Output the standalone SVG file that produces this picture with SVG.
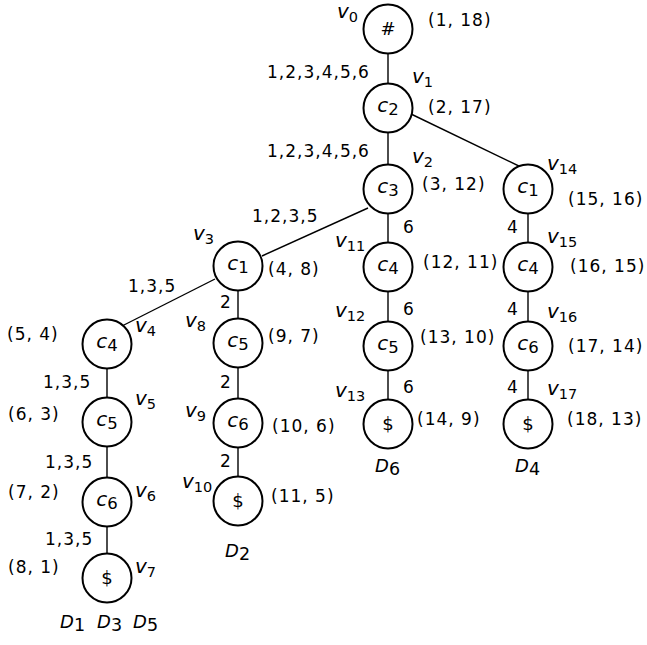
<svg xmlns="http://www.w3.org/2000/svg" width="647" height="645" viewBox="0 0 647 645">
<style>
text{font-family:"DejaVu Sans","Liberation Sans",sans-serif;fill:#000}
.t{font-size:17px;letter-spacing:1px}
.n{font-size:20px;text-anchor:middle}
.s{font-size:18px;text-anchor:middle}
.i{font-style:italic}
.v{font-style:italic;font-size:20px}
.d{font-style:italic;font-size:18px}
.vs{font-size:14.5px}
.ns{font-size:16.5px}
.ds{font-size:17.5px}
circle{fill:#fff;stroke:#000;stroke-width:2}
line{stroke:#000;stroke-width:1.4}
</style>
<rect width="647" height="645" fill="#fff"/>
<g id="connectors">
<line x1="388" y1="29" x2="388" y2="108"/>
<line x1="411" y1="114" x2="523" y2="168"/>
<line x1="388" y1="108" x2="388" y2="189"/>
<line x1="368" y1="208" x2="262" y2="256"/>
<line x1="388" y1="189" x2="388" y2="424"/>
<line x1="528" y1="189" x2="528" y2="424"/>
<line x1="215" y1="279" x2="122" y2="326"/>
<line x1="238" y1="266" x2="238" y2="501"/>
<line x1="107" y1="344" x2="107" y2="578"/>
<text class="t" x="267" y="78">1,2,3,4,5,6</text>
<text class="t" x="267" y="157">1,2,3,4,5,6</text>
<text class="t" x="252" y="222">1,2,3,5</text>
<text class="t" x="403" y="233">6</text>
<text class="t" x="507" y="233">4</text>
<text class="t" x="128" y="292">1,3,5</text>
<text class="t" x="220" y="308">2</text>
<text class="t" x="403" y="315">6</text>
<text class="t" x="507" y="315">4</text>
<text class="t" x="403" y="393">6</text>
<text class="t" x="507" y="393">4</text>
<text class="t" x="43" y="388">1,3,5</text>
<text class="t" x="220" y="388">2</text>
<text class="t" x="45" y="468">1,3,5</text>
<text class="t" x="220" y="467">2</text>
<text class="t" x="45" y="545">1,3,5</text>
</g>
<g id="v0"><circle cx="388" cy="29" r="24.5"/><text class="s" x="388" y="35">#</text>
<text x="337" y="18"><tspan class="v">v</tspan><tspan class="vs" dy="4">0</tspan></text>
<text class="t" x="428" y="26">(1, 18)</text></g>
<g id="v1"><circle cx="388" cy="108" r="24.5"/><text class="n" x="388" y="112"><tspan class="i">c</tspan><tspan class="ns" dy="3">2</tspan></text>
<text x="412" y="83"><tspan class="v">v</tspan><tspan class="vs" dy="4">1</tspan></text>
<text class="t" x="428" y="113">(2, 17)</text></g>
<g id="v2"><circle cx="388" cy="189" r="24.5"/><text class="n" x="388" y="193"><tspan class="i">c</tspan><tspan class="ns" dy="3">3</tspan></text>
<text x="412" y="163"><tspan class="v">v</tspan><tspan class="vs" dy="4">2</tspan></text>
<text class="t" x="422" y="190">(3, 12)</text></g>
<g id="v14"><circle cx="528" cy="189" r="24.5"/><text class="n" x="528" y="193"><tspan class="i">c</tspan><tspan class="ns" dy="3">1</tspan></text>
<text x="547" y="170"><tspan class="v">v</tspan><tspan class="vs" dy="4">14</tspan></text>
<text class="t" x="568" y="205">(15, 16)</text></g>
<g id="v3"><circle cx="238" cy="266" r="24.5"/><text class="n" x="238" y="270"><tspan class="i">c</tspan><tspan class="ns" dy="3">1</tspan></text>
<text x="193" y="240"><tspan class="v">v</tspan><tspan class="vs" dy="4">3</tspan></text>
<text class="t" x="268" y="275">(4, 8)</text></g>
<g id="v11"><circle cx="388" cy="267" r="24.5"/><text class="n" x="388" y="271"><tspan class="i">c</tspan><tspan class="ns" dy="3">4</tspan></text>
<text x="335" y="247"><tspan class="v">v</tspan><tspan class="vs" dy="4">11</tspan></text>
<text class="t" x="423" y="268">(12, 11)</text></g>
<g id="v15"><circle cx="528" cy="267" r="24.5"/><text class="n" x="528" y="271"><tspan class="i">c</tspan><tspan class="ns" dy="3">4</tspan></text>
<text x="547" y="243"><tspan class="v">v</tspan><tspan class="vs" dy="4">15</tspan></text>
<text class="t" x="570" y="272">(16, 15)</text></g>
<g id="v4"><circle cx="107" cy="344" r="24.5"/><text class="n" x="107" y="348"><tspan class="i">c</tspan><tspan class="ns" dy="3">4</tspan></text>
<text x="135" y="332"><tspan class="v">v</tspan><tspan class="vs" dy="4">4</tspan></text>
<text class="t" x="7" y="340">(5, 4)</text></g>
<g id="v8"><circle cx="238" cy="343" r="24.5"/><text class="n" x="238" y="347"><tspan class="i">c</tspan><tspan class="ns" dy="3">5</tspan></text>
<text x="185" y="327"><tspan class="v">v</tspan><tspan class="vs" dy="4">8</tspan></text>
<text class="t" x="268" y="342">(9, 7)</text></g>
<g id="v12"><circle cx="388" cy="346" r="24.5"/><text class="n" x="388" y="350"><tspan class="i">c</tspan><tspan class="ns" dy="3">5</tspan></text>
<text x="335" y="317"><tspan class="v">v</tspan><tspan class="vs" dy="4">12</tspan></text>
<text class="t" x="420" y="343">(13, 10)</text></g>
<g id="v16"><circle cx="528" cy="346" r="24.5"/><text class="n" x="528" y="350"><tspan class="i">c</tspan><tspan class="ns" dy="3">6</tspan></text>
<text x="547" y="318"><tspan class="v">v</tspan><tspan class="vs" dy="4">16</tspan></text>
<text class="t" x="568" y="352">(17, 14)</text></g>
<g id="v5"><circle cx="107" cy="422" r="24.5"/><text class="n" x="107" y="426"><tspan class="i">c</tspan><tspan class="ns" dy="3">5</tspan></text>
<text x="135" y="405"><tspan class="v">v</tspan><tspan class="vs" dy="4">5</tspan></text>
<text class="t" x="8" y="420">(6, 3)</text></g>
<g id="v9"><circle cx="238" cy="423" r="24.5"/><text class="n" x="238" y="427"><tspan class="i">c</tspan><tspan class="ns" dy="3">6</tspan></text>
<text x="185" y="417"><tspan class="v">v</tspan><tspan class="vs" dy="4">9</tspan></text>
<text class="t" x="272" y="432">(10, 6)</text></g>
<g id="v13"><circle cx="388" cy="424" r="24.5"/><text class="s" x="388" y="430">$</text>
<text x="335" y="397"><tspan class="v">v</tspan><tspan class="vs" dy="4">13</tspan></text>
<text class="t" x="417" y="425">(14, 9)</text>
<text x="375" y="472"><tspan class="d">D</tspan><tspan class="ds" dy="3">6</tspan></text></g>
<g id="v17"><circle cx="528" cy="424" r="24.5"/><text class="s" x="528" y="430">$</text>
<text x="547" y="395"><tspan class="v">v</tspan><tspan class="vs" dy="4">17</tspan></text>
<text class="t" x="567" y="425">(18, 13)</text>
<text x="515" y="472"><tspan class="d">D</tspan><tspan class="ds" dy="3">4</tspan></text></g>
<g id="v6"><circle cx="107" cy="502" r="24.5"/><text class="n" x="107" y="506"><tspan class="i">c</tspan><tspan class="ns" dy="3">6</tspan></text>
<text x="135" y="497"><tspan class="v">v</tspan><tspan class="vs" dy="4">6</tspan></text>
<text class="t" x="8" y="498">(7, 2)</text></g>
<g id="v10"><circle cx="238" cy="501" r="24.5"/><text class="s" x="238" y="507">$</text>
<text x="182" y="488"><tspan class="v">v</tspan><tspan class="vs" dy="4">10</tspan></text>
<text class="t" x="271" y="502">(11, 5)</text>
<text x="225" y="557"><tspan class="d">D</tspan><tspan class="ds" dy="3">2</tspan></text></g>
<g id="v7"><circle cx="107" cy="578" r="24.5"/><text class="s" x="107" y="584">$</text>
<text x="135" y="573"><tspan class="v">v</tspan><tspan class="vs" dy="4">7</tspan></text>
<text class="t" x="8" y="573">(8, 1)</text>
<text x="60" y="628"><tspan class="d">D</tspan><tspan class="ds" dy="3">1</tspan></text>
<text x="97" y="628"><tspan class="d">D</tspan><tspan class="ds" dy="3">3</tspan></text>
<text x="133" y="628"><tspan class="d">D</tspan><tspan class="ds" dy="3">5</tspan></text></g>
</svg>
